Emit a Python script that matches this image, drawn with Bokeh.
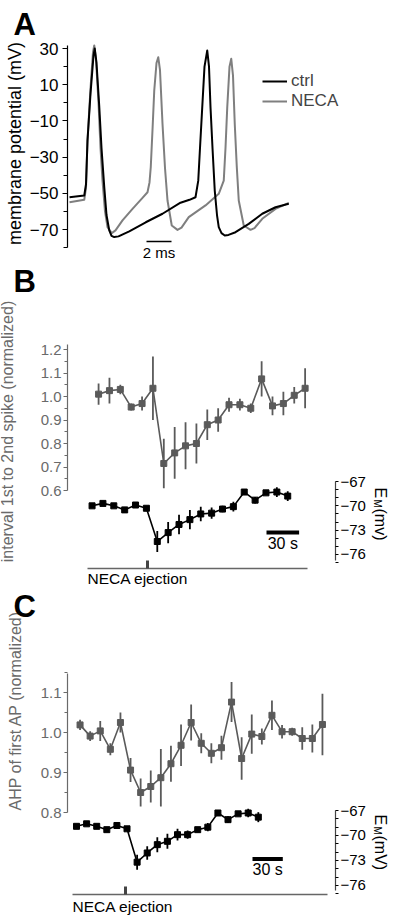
import math
from bokeh.plotting import figure
from bokeh.models import Range1d, LinearAxis, FixedTicker, Label, Legend, LegendItem
from bokeh.layouts import column
from bokeh.embed import file_html
from bokeh.resources import INLINE
from bokeh.core.properties import value

FONT = "Liberation Sans"
BLACK = "#000000"
AXGRAY = "#6a6a6a"
SERGRAY = "#5a5a5a"
TRACEGRAY = "#7f7f7f"
LINEGRAY = "#666666"

# ---------------- Panel A: membrane potential traces (time in ms, mV) ----------------
ctrl_t = [0.0, 1.18, 1.32, 1.44, 1.68, 1.92, 2.02, 2.16, 2.38, 2.56,
          2.78, 2.96, 3.18, 3.36, 3.58, 3.92, 4.78, 6.1, 7.44, 8.88,
          9.6, 10.08, 10.3, 10.44, 10.62, 10.8, 11.02, 11.16, 11.28, 11.44,
          11.62, 11.8, 11.94, 12.16, 12.42, 12.72, 13.28, 14.34, 15.42, 16.48,
          17.54]
ctrl_v = [-52.2, -51.2, -45, -20.8, 5, 26, 30, 22, -2, -25,
          -46.6, -62, -70.5, -73.5, -74.2, -73.8, -71, -66, -61.3, -55.2,
          -53.6, -52.2, -43, -25, -2.4, 20, 28.9, 20, -2.4, -25,
          -48.5, -62, -68.7, -72, -73.3, -73, -71.5, -66.9, -61.3, -57.7,
          -55.8]
neca_t = [0.0, 1.18, 1.32, 1.44, 1.68, 1.88, 1.98, 2.12, 2.32, 2.48,
          2.64, 2.84, 3.04, 3.38, 3.68, 4.24, 5.04, 5.84, 6.24, 6.4,
          6.5, 6.64, 6.78, 6.96, 7.1, 7.24, 7.44, 7.64, 7.84, 8.18,
          8.64, 8.96, 9.54, 10.88, 11.94, 12.34, 12.48, 12.62, 12.8, 12.94,
          13.08, 13.22, 13.38, 13.54, 13.94, 14.48, 14.8, 15.42, 16.48, 17.54]
neca_v = [-54.9, -53.6, -47, -20.8, 8, 28, 31.7, 24, 0, -25,
          -43, -60, -68.7, -72, -70.5, -65, -58.6, -52.5, -49.4, -44,
          -35.6, -15, 6.8, 22, 25.2, 18, -11.6, -36, -54, -67.8,
          -70.2, -69, -63.2, -56.7, -50.3, -43, -25, -2.4, 20, 24.3,
          15, -11.6, -35, -54, -67.8, -70.2, -69.2, -64.1, -58.6, -55.3]
a_major_ticks = [30, 10, -10, -30, -50, -70]
a_minor_ticks = [20, 0, -20, -40, -60, -80]
a_scale_ms = 2

# ---------------- Panel B: interval 1st to 2nd spike / Em (time in s) ----------------
b_int_t = [-45, -35, -25, -15, -5, 5, 15, 25, 35, 45,
           55, 65, 75, 85, 95, 105, 115, 125, 135, 145]
b_int_v = [1.01, 1.025, 1.03, 0.955, 0.97, 1.035, 0.715, 0.76, 0.79, 0.80,
           0.88, 0.90, 0.965, 0.965, 0.95, 1.075, 0.96, 0.97, 1.005, 1.035]
b_int_e = [0.045, 0.055, 0.02, 0.015, 0.03, 0.135, 0.105, 0.11, 0.10, 0.085,
           0.065, 0.05, 0.03, 0.025, 0.02, 0.075, 0.04, 0.05, 0.035, 0.085]
b_em_t = [-51, -41, -31, -21, -11, -1, 9, 19, 29, 39,
          49, 59, 69, 79, 89, 99, 109, 119, 129]
b_em_v = [-70.0, -69.7, -70.0, -70.5, -69.9, -70.3, -74.4, -73.3, -72.3, -71.7,
          -71.0, -70.9, -70.4, -70.1, -68.3, -69.3, -68.4, -68.3, -68.8]
b_em_e = [0.15, 0.15, 0.15, 0.15, 0.15, 0.2, 1.3, 1.3, 1.2, 1.2,
          0.9, 0.7, 0.4, 0.6, 0.2, 0.4, 0.2, 0.6, 0.6]
b_left_ticks = [0.6, 0.7, 0.8, 0.9, 1.0, 1.1, 1.2]
b_left_minor = [0.65, 0.75, 0.85, 0.95, 1.05, 1.15]

# ---------------- Panel C: AHP of first AP / Em (time in s) ----------------
c_ahp_t = [-45, -35, -25, -15, -5, 5, 15, 25, 35, 45,
           55, 65, 75, 85, 95, 105, 115, 125, 135, 145,
           155, 165, 175, 185, 195]
c_ahp_v = [1.019, 0.991, 1.004, 0.958, 1.025, 0.906, 0.85, 0.865, 0.887, 0.922,
           0.968, 1.025, 0.973, 0.948, 0.962, 1.076, 0.935, 0.996, 0.99, 1.043,
           1.002, 1.002, 0.985, 0.985, 1.02]
c_ahp_e = [0.013, 0.012, 0.025, 0.015, 0.025, 0.03, 0.035, 0.04, 0.072, 0.045,
           0.052, 0.045, 0.025, 0.025, 0.03, 0.05, 0.053, 0.049, 0.02, 0.037,
           0.017, 0.01, 0.028, 0.035, 0.077]
c_em_t = [-48.5, -38.5, -28.5, -18.5, -8.5, 1.5, 11.5, 21.5, 31.5, 41.5,
          51.5, 61.5, 71.5, 81.5, 91.5, 101.5, 111.5, 121.5, 131.5]
c_em_v = [-68.9, -68.6, -68.9, -69.3, -68.8, -69.2, -73.2, -72.1, -71.1, -70.7,
          -69.9, -69.9, -69.3, -69.0, -67.3, -68.1, -67.4, -67.3, -67.8]
c_em_e = [0.15, 0.15, 0.15, 0.15, 0.15, 0.2, 0.9, 0.8, 0.9, 0.9,
          0.7, 0.5, 0.3, 0.5, 0.2, 0.4, 0.2, 0.5, 0.6]
c_left_ticks = [0.8, 0.9, 1.0, 1.1]
c_left_minor = [0.85, 0.95, 1.05, 1.15]

em_ticks = [-67, -70, -73, -76]
em_minor = [-68, -69, -71, -72, -74, -75, -77]
neca_time = 0
scale_s = 30

# Bokeh's standalone page has no body margin: the layout starts at (0, 0)
W = 399
PAGE_L, PAGE_R = 0, W


def lin_x(origin_px, px_per_unit):
    return lambda px: (px - origin_px) / px_per_unit


def lin_y(ref_val, ref_py, px_per_unit):
    return lambda py: ref_val - (py - ref_py) / px_per_unit


def make_fig(top, height, fx, fy):
    p = figure(width=W, height=height,
               x_range=Range1d(fx(PAGE_L), fx(PAGE_R)),
               y_range=Range1d(fy(top + height), fy(top)),
               min_border_left=0, min_border_right=0, min_border_top=0, min_border_bottom=0,
               toolbar_location=None, output_backend="svg",
               x_axis_location=None, y_axis_location=None)
    p.outline_line_color = None
    p.grid.visible = False
    p.background_fill_color = "white"
    p.border_fill_color = "white"
    return p


def style_axis(ax, color, font_size, standoff=3, tick_out=5, minor_out=4):
    ax.axis_line_color = color
    ax.axis_line_width = 1.2
    ax.major_tick_line_color = color
    ax.minor_tick_line_color = color
    ax.major_tick_in = 0
    ax.minor_tick_in = 0
    ax.major_tick_out = tick_out
    ax.minor_tick_out = minor_out
    ax.major_label_text_color = color
    ax.major_label_text_font = FONT
    ax.major_label_text_font_size = font_size
    ax.major_label_standoff = standoff


def text_label(p, x, y, txt, size, color=BLACK, angle=0.0, align="left", baseline="middle",
               style="normal", y_range_name="default"):
    p.add_layout(Label(x=x, y=y, text=txt, angle=angle, text_font=FONT, text_font_size=size,
                       text_font_style=style, text_color=color, text_align=align,
                       text_baseline=baseline, y_range_name=y_range_name))


def em_label(p, fx, fyem, top_py, unit):
    text_label(p, fx(380), fyem(top_py), "E", "16px", angle=-math.pi / 2, y_range_name="em")
    text_label(p, fx(377), fyem(top_py + 12), "M", "10px", angle=-math.pi / 2, y_range_name="em")
    text_label(p, fx(380), fyem(top_py + 21), unit, "16px", angle=-math.pi / 2, y_range_name="em")


# ======================= Panel A =======================
A_TOP, A_H = 0, 265
axA = lin_x(69, 12.5)          # ms
ayA = lin_y(30, 48, 1.81)      # mV
pA = make_fig(A_TOP, A_H, axA, ayA)
r_neca = pA.line(neca_t, neca_v, line_color=TRACEGRAY, line_width=2, line_join="round")
r_ctrl = pA.line(ctrl_t, ctrl_v, line_color=BLACK, line_width=2, line_join="round")
yA = LinearAxis(ticker=FixedTicker(ticks=a_major_ticks, minor_ticks=a_minor_ticks),
                fixed_location=axA(67), bounds=(-80, 31.5))
style_axis(yA, BLACK, "17px", standoff=4)
pA.add_layout(yA, "left")
text_label(pA, axA(14), ayA(143), "membrane potential (mV)", "18px", angle=math.pi / 2,
           align="center")
legA = Legend(items=[LegendItem(label="ctrl", renderers=[r_ctrl]),
                     LegendItem(label="NECA", renderers=[r_neca])],
              location=(262 - PAGE_L, A_H - 111), padding=0, margin=0, spacing=0,
              glyph_width=25, glyph_height=14, label_height=14, label_standoff=4,
              label_text_font=FONT, label_text_font_size="17px", label_text_line_height=0.9,
              border_line_color=None, background_fill_alpha=0)
pA.add_layout(legA)
sbA_x0 = axA(146)
pA.segment(x0=[sbA_x0], y0=[ayA(241)], x1=[sbA_x0 + a_scale_ms], y1=[ayA(241)],
           line_color=BLACK, line_width=1.5)
pA.text(x=[sbA_x0 + a_scale_ms / 2], y=[ayA(252)], text=[f"{a_scale_ms} ms"],
        text_font=value(FONT), text_font_size="15px", text_align="center",
        text_baseline="middle", text_color=BLACK)
text_label(pA, axA(13), ayA(23.5), "A", "31px", style="bold")


# ======================= Panels B and C =======================
def make_panel(top, height, t0_px, px_per_s, left_ref, em_ref,
               t_s, v_s, e_s, tb, vb, eb, left_ticks, left_minor, left_bounds, em_bounds,
               axis_px, neca_py, neca_px, sb_px, sb_py, sb_text_py, neca_text_py,
               em_top_py, em_unit, letter, letter_py, ylabel, ylabel_px, ylabel_py):
    fx = lin_x(t0_px, px_per_s)
    fy = lin_y(*left_ref)
    fyem = lin_y(*em_ref)
    p = make_fig(top, height, fx, fy)
    p.extra_y_ranges = {"em": Range1d(fyem(top + height), fyem(top))}

    # gray (left axis) series with SEM bars
    p.segment(x0=t_s, y0=[v - e for v, e in zip(v_s, e_s)], x1=t_s,
              y1=[v + e for v, e in zip(v_s, e_s)], line_color=SERGRAY, line_width=1.8)
    p.line(t_s, v_s, line_color=SERGRAY, line_width=1.6)
    p.scatter(t_s, v_s, marker="square", size=6, fill_color=SERGRAY, line_color=SERGRAY)

    # black (Em) series with SEM bars
    p.segment(x0=tb, y0=[v - e for v, e in zip(vb, eb)], x1=tb,
              y1=[v + e for v, e in zip(vb, eb)], line_color=BLACK, line_width=1.8,
              y_range_name="em")
    p.line(tb, vb, line_color=BLACK, line_width=1.6, y_range_name="em")
    p.scatter(tb, vb, marker="square", size=6, fill_color=BLACK, line_color=BLACK,
              y_range_name="em")

    # left axis
    ly = LinearAxis(ticker=FixedTicker(ticks=left_ticks, minor_ticks=left_minor),
                    fixed_location=fx(axis_px[0]), bounds=left_bounds)
    ly.major_label_overrides = {t: f"{t:.1f}" for t in left_ticks}
    style_axis(ly, AXGRAY, "15px", standoff=2, tick_out=4, minor_out=3)
    p.add_layout(ly, "left")
    text_label(p, fx(ylabel_px), fy(ylabel_py), ylabel, "16px", color=AXGRAY,
               angle=math.pi / 2, align="center")

    # right (Em) axis
    ry = LinearAxis(y_range_name="em", ticker=FixedTicker(ticks=em_ticks, minor_ticks=em_minor),
                    fixed_location=fx(axis_px[1]), bounds=em_bounds)
    style_axis(ry, BLACK, "15px", standoff=2, tick_out=3, minor_out=3)
    ry.axis_line_color = "#444444"
    p.add_layout(ry, "right")
    em_label(p, fx, fyem, em_top_py, em_unit)

    # NECA ejection timeline
    xa = LinearAxis(ticker=FixedTicker(ticks=[neca_time], minor_ticks=[]),
                    fixed_location=fy(neca_py), bounds=(fx(neca_px[0]), fx(neca_px[1])))
    xa.axis_line_color = LINEGRAY
    xa.axis_line_width = 1.5
    xa.major_tick_in = 8
    xa.major_tick_out = 0
    xa.major_tick_line_width = 3
    xa.major_tick_line_color = "#444444"
    xa.minor_tick_line_color = None
    xa.major_label_overrides = {neca_time: " "}
    xa.major_label_text_font_size = "1px"
    xa.major_label_text_alpha = 0
    p.add_layout(xa, "below")
    text_label(p, fx(neca_px[0]), fy(neca_text_py), "NECA ejection", "15.5px")

    # 30 s scale bar
    sb_x0 = fx(sb_px)
    p.segment(x0=[sb_x0], y0=[fyem(sb_py)], x1=[sb_x0 + scale_s], y1=[fyem(sb_py)],
              line_color=BLACK, line_width=4, y_range_name="em")
    p.text(x=[sb_x0 + scale_s / 2], y=[fyem(sb_text_py)], text=[f"{scale_s} s"],
           text_font=value(FONT), text_font_size="16px", text_align="center",
           text_baseline="middle", text_color=BLACK, y_range_name="em")

    text_label(p, fx(13), fy(letter_py), letter, "31px", style="bold")
    return p


pB = make_panel(top=265, height=322, t0_px=147, px_per_s=1.087,
                left_ref=(1.2, 349, 235), em_ref=(-67, 481, 8.11),
                t_s=b_int_t, v_s=b_int_v, e_s=b_int_e, tb=b_em_t, vb=b_em_v, eb=b_em_e,
                left_ticks=b_left_ticks, left_minor=b_left_minor, left_bounds=(0.6, 1.22),
                em_bounds=(-76.8, -67), axis_px=(67, 335), neca_py=568, neca_px=(87, 307),
                sb_px=266, sb_py=532, sb_text_py=543, neca_text_py=577.5,
                em_top_py=487, em_unit="(mv)", letter="B", letter_py=281,
                ylabel="interval 1st to 2nd spike (normalized)", ylabel_px=7, ylabel_py=431)

pC = make_panel(top=587, height=328, t0_px=125, px_per_s=1.01,
                left_ref=(1.1, 692, 400), em_ref=(-67, 810, 8.33),
                t_s=c_ahp_t, v_s=c_ahp_v, e_s=c_ahp_e, tb=c_em_t, vb=c_em_v, eb=c_em_e,
                left_ticks=c_left_ticks, left_minor=c_left_minor, left_bounds=(0.8, 1.148),
                em_bounds=(-76.6, -67), axis_px=(67, 335), neca_py=894, neca_px=(72, 327),
                sb_px=252, sb_py=858.5, sb_text_py=869, neca_text_py=906,
                em_top_py=814, em_unit="(mV)", letter="C", letter_py=606,
                ylabel="AHP of first AP (normalized)", ylabel_px=14.5, ylabel_py=710)

layout = column(pA, pB, pC, spacing=0)
open("out.html", "w").write(file_html(layout, INLINE))
